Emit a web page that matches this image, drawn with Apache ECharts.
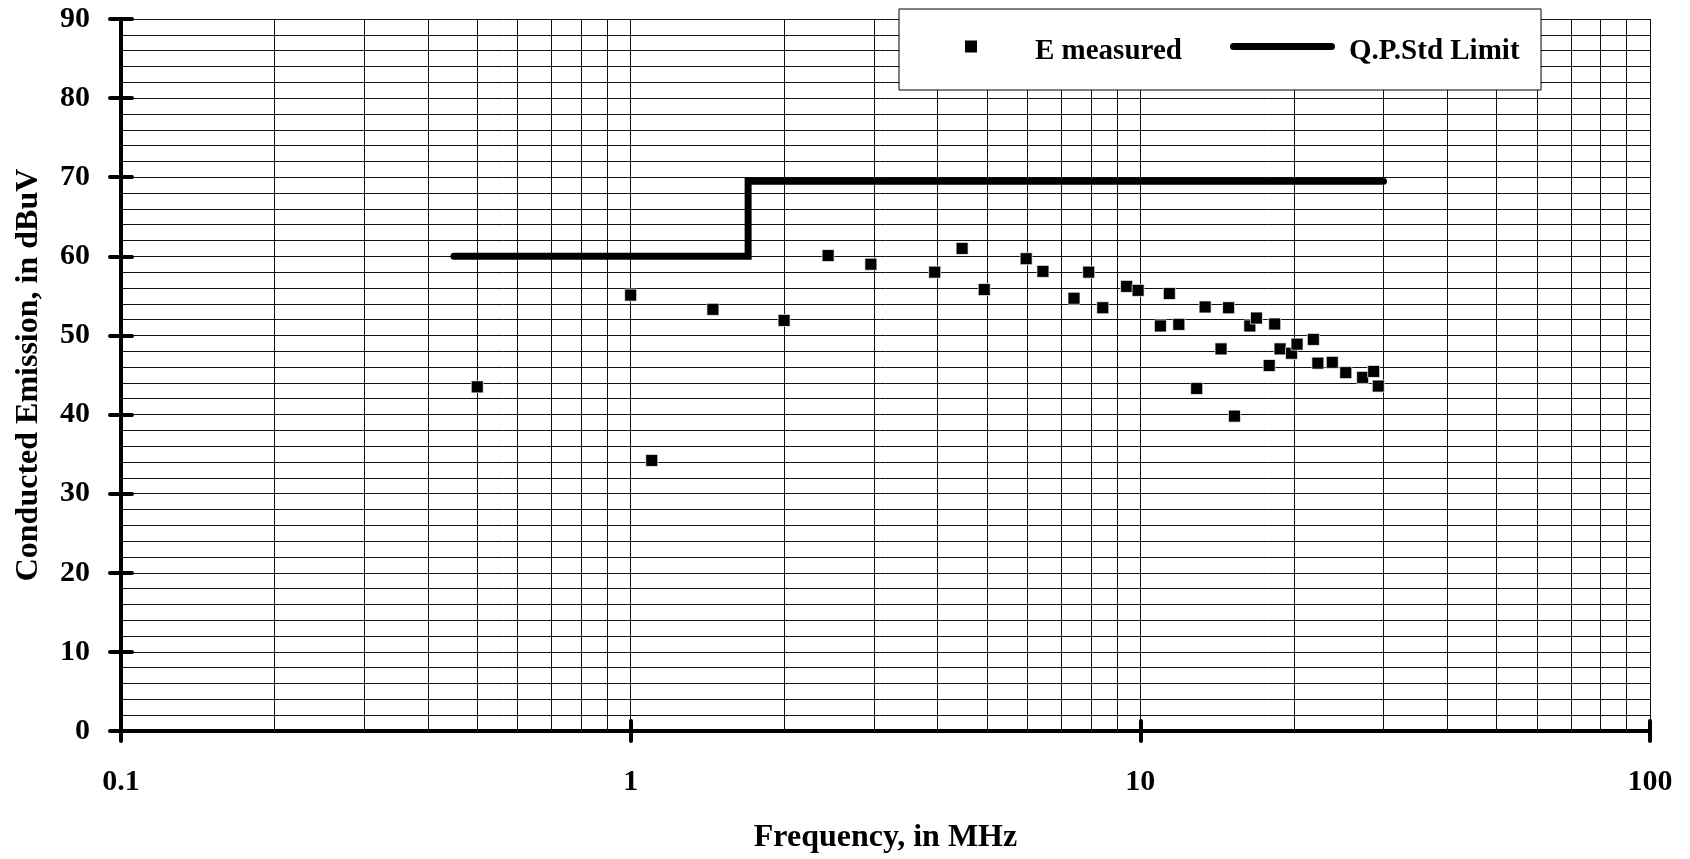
<!DOCTYPE html>
<html><head><meta charset="utf-8">
<script src="https://cdn.jsdelivr.net/npm/echarts@6/dist/echarts.min.js"></script>
<style>html,body{margin:0;padding:0;background:#fff}#c{width:1690px;height:859px}</style>
</head><body><div id="c"></div>
<script>
// Measured emission points (frequency in MHz, level in dBuV)
const freqMHz = [0.5, 1.0, 1.1, 1.45, 2.0, 2.44, 2.96, 3.95, 4.47, 4.94, 5.97, 6.44, 7.41, 7.92, 8.44, 9.40, 9.9, 10.95, 11.4, 11.9, 12.9, 13.4, 14.4, 14.9, 15.3, 16.4, 16.9, 17.9, 18.35, 18.8, 19.8, 20.3, 21.85, 22.3, 23.8, 25.3, 27.3, 28.7, 29.3];
const emission = [43.5, 55.1, 34.2, 53.3, 51.9, 60.1, 59.0, 58.0, 61.0, 55.8, 59.7, 58.1, 54.7, 58.0, 53.5, 56.2, 55.7, 51.2, 55.3, 51.4, 43.3, 53.6, 48.3, 53.5, 39.8, 51.2, 52.2, 46.2, 51.45, 48.3, 47.75, 48.9, 49.5, 46.5, 46.6, 45.3, 44.7, 45.45, 43.6];
// Q.P. standard limit (step line)
const limitFreq = [0.45, 1.7, 1.7, 30];
const limitLevel = [60, 60, 69.5, 69.5];
// Log-axis minor grid tick values
const minorFreqTicks = [0.2, 0.3, 0.4, 0.5, 0.6, 0.7, 0.8, 0.9, 2, 3, 4, 5, 6, 7, 8, 9, 20, 30, 40, 50, 60, 70, 80, 90];
const seriesNames = ['E measured', 'Q.P.Std Limit'];
const xTitle = 'Frequency, in MHz';
const yTitle = 'Conducted Emission, in dBuV';

const FONT = "'Liberation Serif', 'Times New Roman', serif";
const GRID_LINE = {color: '#111', width: 1};
const AXIS_LINE = {color: '#000', width: 4, cap: 'round'};
const LEGEND_TEXT = {fontFamily: FONT, fontWeight: 'bold', fontSize: 29, color: '#000', lineHeight: 30};
// legend icons: the shape sits at the top of a taller (invisible) box so the label sits a little lower
const squareIcon = 'path://M0,0 H12 V12 H0 Z M0,23';
const lineIcon = 'path://M3.5,0 H101.5 A3.5,3.5 0 0 1 101.5,7 H3.5 A3.5,3.5 0 0 1 3.5,0 Z M0,18';

const chart = echarts.init(document.getElementById('c'));
chart.setOption({
  animation: false,
  backgroundColor: '#fff',
  grid: {left: 121, right: 40, top: 19, bottom: 126, containLabel: false},
  xAxis: [{
    type: 'log', logBase: 10, min: 0.1, max: 100,
    name: xTitle, nameLocation: 'middle', nameGap: 91,
    nameTextStyle: {fontFamily: FONT, fontWeight: 'bold', fontSize: 32, color: '#000'},
    axisLine: {onZero: false, lineStyle: AXIS_LINE},
    axisTick: {show: true, length: 10, lineStyle: AXIS_LINE},
    axisLabel: {margin: 36, fontFamily: FONT, fontWeight: 'bold', fontSize: 30, color: '#000',
      formatter: v => String(+(+v).toPrecision(6))},
    splitLine: {show: true, lineStyle: GRID_LINE}
  }, {
    type: 'log', logBase: 10, min: 0.1, max: 100, position: 'bottom',
    axisLine: {show: false},
    axisTick: {show: true, inside: true, length: 10, lineStyle: AXIS_LINE},
    axisLabel: {show: false},
    splitLine: {show: false}
  }],
  yAxis: [{
    type: 'value', min: 0, max: 90, interval: 10, position: 'left',
    name: yTitle, nameLocation: 'middle', nameGap: 76, nameRotate: 90,
    nameTextStyle: {fontFamily: FONT, fontWeight: 'bold', fontSize: 32, color: '#000'},
    axisLine: {show: true, onZero: false, lineStyle: AXIS_LINE},
    axisTick: {show: true, length: 11, lineStyle: AXIS_LINE},
    axisLabel: {margin: 31, fontFamily: FONT, fontWeight: 'bold', fontSize: 30, color: '#000'},
    splitLine: {show: true, lineStyle: GRID_LINE},
    minorTick: {show: false, splitNumber: 5},
    minorSplitLine: {show: true, lineStyle: GRID_LINE}
  }, {
    type: 'value', min: 0, max: 90, interval: 10, position: 'left',
    axisLine: {show: false},
    axisTick: {show: true, inside: true, length: 11, lineStyle: AXIS_LINE},
    axisLabel: {show: false},
    splitLine: {show: false}
  }],
  legend: [{
    data: [{name: seriesNames[0], icon: squareIcon}],
    left: 965, top: 37, padding: 0, itemWidth: 12, itemHeight: 23, z: 20, selectedMode: false,
    itemStyle: {color: '#000', borderWidth: 0},
    textStyle: Object.assign({}, LEGEND_TEXT, {padding: [0, 0, 0, 53]})
  }, {
    data: [{name: seriesNames[1], icon: lineIcon}],
    left: 1230, top: 37, padding: 0, itemWidth: 105, itemHeight: 18, z: 20, selectedMode: false,
    itemStyle: {color: '#000', borderWidth: 0},
    textStyle: Object.assign({}, LEGEND_TEXT, {padding: [0, 0, 0, 9]})
  }],
  graphic: [{
    type: 'rect', z: 10,
    shape: {x: 899, y: 9, width: 642, height: 81},
    style: {fill: '#fff', stroke: '#000', lineWidth: 1}
  }],
  series: [{
    name: seriesNames[1], type: 'line', xAxisIndex: 0, yAxisIndex: 0, z: 3,
    data: limitFreq.map((f, i) => [f, limitLevel[i]]),
    symbol: 'none',
    lineStyle: {color: '#000', width: 7, cap: 'round', join: 'miter'},
    itemStyle: {color: '#000'},
    markLine: {
      silent: true, z: 1, symbol: ['none', 'none'], label: {show: false},
      lineStyle: {color: '#111', width: 1, type: 'solid'},
      emphasis: {disabled: true},
      data: minorFreqTicks.map(v => ({xAxis: v}))
    }
  }, {
    name: seriesNames[0], type: 'scatter', xAxisIndex: 0, yAxisIndex: 0, z: 4,
    symbol: 'rect', symbolSize: 12,
    itemStyle: {color: '#000', borderColor: 'rgba(255,255,255,0.7)', borderWidth: 1, opacity: 1},
    data: freqMHz.map((f, i) => [f, emission[i]])
  }]
});
</script></body></html>
